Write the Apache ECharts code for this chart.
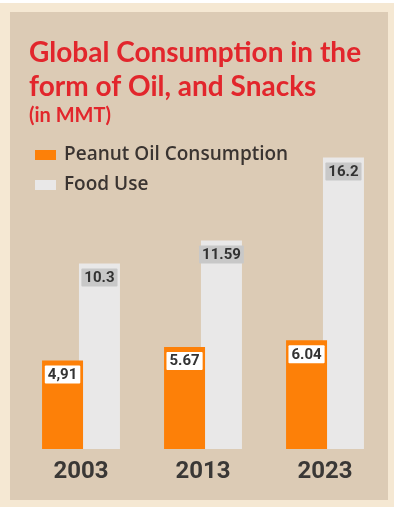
<!DOCTYPE html>
<html>
<head>
<meta charset="utf-8">
<script src="https://cdn.jsdelivr.net/npm/echarts@6/dist/echarts.min.js"></script>
<style>
  html, body { margin: 0; padding: 0; background: #f5e8d3; }
  #chart { width: 394px; height: 507px; }
</style>
</head>
<body>
<div id="chart"></div>
<script>
// Years on the x axis
const years = ['2003', '2013', '2023'];
// Peanut oil consumption (MMT)
const oilValues = [4.91, 5.67, 6.04];
const oilLabels = ['4,91', '5.67', '6.04'];
// Food use (MMT)
const foodValues = [10.3, 11.59, 16.2];
const foodLabels = ['10.3', '11.59', '16.2'];

const narrow = 'Roboto, "DejaVu Sans Condensed", sans-serif';
const humanist = 'Lato, "Open Sans", sans-serif';

const chart = echarts.init(document.getElementById('chart'));

function valueLabel(texts, bg) {
  return {
    show: true,
    position: 'insideTop',
    distance: 5,
    formatter: p => texts[p.dataIndex],
    backgroundColor: bg,
    padding: [2, 3, 1, 3],
    borderRadius: 1,
    color: '#333333',
    fontFamily: narrow,
    fontWeight: 'bold',
    fontSize: 15,
    lineHeight: 15
  };
}

chart.setOption({
  backgroundColor: '#f5e8d3',
  animation: false,
  graphic: [
    { type: 'rect', z: -10, shape: { x: 0, y: 0, width: 394, height: 3 }, style: { fill: '#ffffff' } },
    { type: 'rect', z: -10, shape: { x: 10, y: 12, width: 378, height: 488 }, style: { fill: '#dccbb5' } }
  ],
  title: {
    text: 'Global Consumption in the\nform of Oil, and Snacks',
    subtext: '(in MMT)',
    left: 24,
    top: 31,
    itemGap: 2,
    textStyle: {
      fontFamily: humanist,
      fontWeight: 'bold',
      fontSize: 28,
      lineHeight: 34,
      color: '#e2262c'
    },
    subtextStyle: {
      fontFamily: humanist,
      fontWeight: 'bold',
      fontSize: 20,
      lineHeight: 20,
      color: '#e2262c'
    }
  },
  legend: {
    orient: 'vertical',
    left: 30,
    top: 140,
    itemWidth: 21,
    itemHeight: 10,
    itemGap: 10,
    icon: 'rect',
    textStyle: {
      fontFamily: '"Open Sans", Lato, sans-serif',
      fontWeight: 600,
      fontSize: 19,
      lineHeight: 20,
      color: '#3a3431',
      padding: [0, 0, 0, 3]
    },
    data: ['Peanut Oil Consumption', 'Food Use']
  },
  grid: { left: 20, right: 8, top: 89, bottom: 58 },
  xAxis: {
    type: 'category',
    data: years,
    axisLine: { show: false },
    axisTick: { show: false },
    axisLabel: {
      margin: 11,
      fontFamily: narrow,
      fontWeight: 'bold',
      fontSize: 24,
      color: '#3a3836'
    }
  },
  yAxis: {
    type: 'value',
    min: 0,
    max: 20,
    show: false,
    splitLine: { show: false }
  },
  series: [
    {
      name: 'Peanut Oil Consumption',
      type: 'bar',
      z: 3,
      barWidth: 41,
      barGap: '-10%',
      data: oilValues,
      itemStyle: { color: '#fd8008' },
      label: valueLabel(oilLabels, '#ffffff')
    },
    {
      name: 'Food Use',
      type: 'bar',
      z: 2,
      barWidth: 41,
      data: foodValues,
      itemStyle: { color: '#e9e8e8' },
      label: valueLabel(foodLabels, '#c8c8c8')
    }
  ]
});
</script>
</body>
</html>
